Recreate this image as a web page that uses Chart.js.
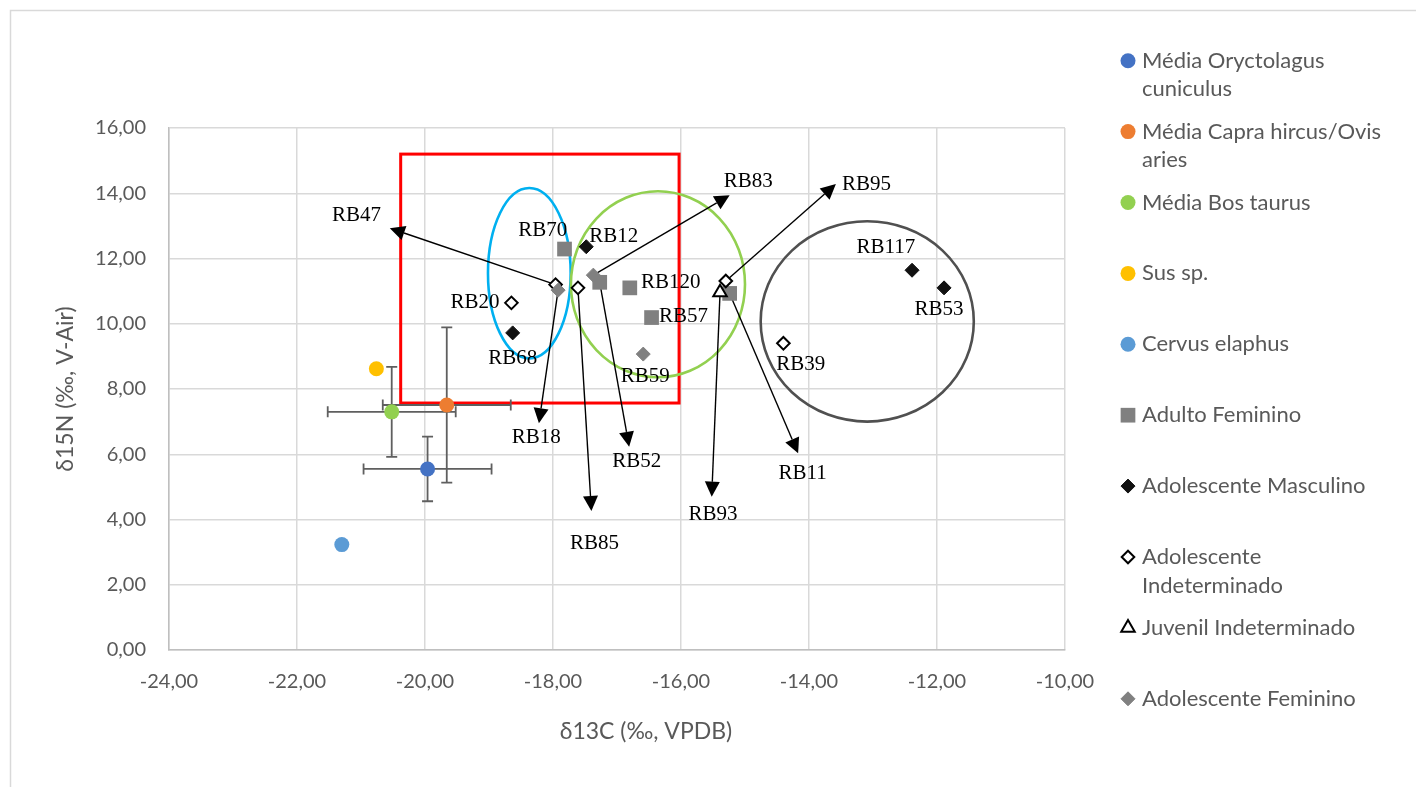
<!DOCTYPE html>
<html>
<head>
<meta charset="utf-8">
<script src="https://cdn.jsdelivr.net/npm/chart.js@4/dist/chart.umd.min.js"></script>
<style>
  html, body { margin: 0; padding: 0; background: #ffffff; }
  #wrap { width: 1416px; height: 787px; position: relative; }
</style>
</head>
<body>
<div id="wrap"><canvas id="c" width="1416" height="787"></canvas></div>
<script>
// ---- Series values: [δ13C, δ15N] ----
const oryctolagus = [[-19.96, 5.55]];
const capraOvis = [[-19.66, 7.51]];
const bosTaurus = [[-20.52, 7.30]];
const susSp = [[-20.76, 8.62]];
const cervus = [[-21.30, 3.23]];
const adultoFeminino = [[-17.82, 12.29], [-17.27, 11.27], [-16.80, 11.10], [-16.46, 10.19], [-15.24, 10.93]];
const adolMasculino = [[-17.48, 12.36], [-18.63, 9.72], [-12.39, 11.64], [-11.89, 11.10]];
const adolIndeterminado = [[-18.65, 10.64], [-17.96, 11.20], [-17.61, 11.10], [-15.30, 11.31], [-14.40, 9.40]];
const juvenilIndeterminado = [[-15.39, 10.96]];
const adolFeminino = [[-17.92, 11.03], [-17.37, 11.49], [-16.59, 9.07]];

// Standard deviations of the three fauna means (Oryctolagus, Capra/Ovis, Bos)
const meanXErr = [1.00, 1.00, 1.00];
const meanYErr = [0.99, 2.38, 1.38];

// Legend texts (lines as wrapped in the legend)
const seriesLabels = [
  ['Média Oryctolagus', 'cuniculus'],
  ['Média Capra hircus/Ovis', 'aries'],
  ['Média Bos taurus'],
  ['Sus sp.'],
  ['Cervus elaphus'],
  ['Adulto Feminino'],
  ['Adolescente Masculino'],
  ['Adolescente', 'Indeterminado'],
  ['Juvenil Indeterminado'],
  ['Adolescente Feminino']
];

// Axis ticks
const xTickValues = [-24, -22, -20, -18, -16, -14, -12, -10];
const yTickValues = [0, 2, 4, 6, 8, 10, 12, 14, 16];
const xTitle = 'δ13C (‰, VPDB)';
const yTitle = 'δ15N (‰, V-Air)';

// Sample names written next to the markers (text, x, y in axis units)
const sampleNames = [
  ['RB70', -18.16, 12.85], ['RB12', -17.05, 12.69], ['RB120', -16.16, 11.28],
  ['RB57', -15.96, 10.21], ['RB20', -19.22, 10.64], ['RB68', -18.63, 8.95],
  ['RB59', -16.56, 8.39], ['RB117', -12.80, 12.33], ['RB53', -11.97, 10.45],
  ['RB39', -14.13, 8.76],
  ['RB47', -21.07, 13.33], ['RB18', -18.26, 6.50], ['RB85', -17.35, 3.27],
  ['RB52', -16.69, 5.77], ['RB83', -14.95, 14.35], ['RB95', -13.10, 14.28],
  ['RB93', -15.50, 4.14], ['RB11', -14.10, 5.41]
];

// Callout arrows from a sample marker to its name
const callouts = [
  { from: adolIndeterminado[1], to: [-20.55, 12.93] },
  { from: adolFeminino[0], to: [-18.22, 6.95] },
  { from: adolIndeterminado[2], to: [-17.40, 4.26] },
  { from: adultoFeminino[1], to: [-16.81, 6.23] },
  { from: adolFeminino[1], to: [-15.24, 13.94] },
  { from: adolIndeterminado[3], to: [-13.58, 14.28] },
  { from: juvenilIndeterminado[0], to: [-15.52, 4.70] },
  { from: adultoFeminino[4], to: [-14.17, 6.03] }
];

// Grouping outlines (axis units)
const groupBox = { x0: -20.38, x1: -16.03, y0: 7.57, y1: 15.20, color: '#FF0000' };
const groupEllipses = [
  { cx: -18.37, cy: 11.55, rx: 0.646, ry: 2.61, color: '#00B0F0' },
  { cx: -16.36, cy: 11.21, rx: 1.36, ry: 2.85, color: '#92D050' },
  { cx: -13.09, cy: 10.07, rx: 1.665, ry: 3.07, color: '#505050' }
];

const toPts = arr => arr.map(p => ({ x: p[0], y: p[1] }));
const TEXT_GREY = '#595959';
const FONT = 'Lato, "Open Sans", sans-serif';

const styles = [
  { pointStyle: 'circle', radius: 7.5, bg: '#4472C4', border: '#4472C4', bw: 0 },
  { pointStyle: 'circle', radius: 7.5, bg: '#ED7D31', border: '#ED7D31', bw: 0 },
  { pointStyle: 'circle', radius: 7.5, bg: '#92D050', border: '#92D050', bw: 0 },
  { pointStyle: 'circle', radius: 7.5, bg: '#FFC000', border: '#FFC000', bw: 0 },
  { pointStyle: 'circle', radius: 7.5, bg: '#5B9BD5', border: '#5B9BD5', bw: 0 },
  { pointStyle: 'rect', radius: 10.4, bg: '#808080', border: '#808080', bw: 0 },
  { pointStyle: 'rectRot', radius: 7, bg: '#111111', border: '#111111', bw: 1 },
  { pointStyle: 'rectRot', radius: 6.3, bg: '#FFFFFF', border: '#000000', bw: 2 },
  { pointStyle: 'triangle', radius: 7.8, bg: '#FFFFFF', border: '#000000', bw: 2 },
  { pointStyle: 'rectRot', radius: 7, bg: '#808080', border: '#808080', bw: 1 }
];
const seriesData = [oryctolagus, capraOvis, bosTaurus, susSp, cervus,
  adultoFeminino, adolMasculino, adolIndeterminado, juvenilIndeterminado, adolFeminino];

const datasets = seriesData.map((d, i) => ({
  label: seriesLabels[i].join(' '),
  data: toPts(d),
  pointStyle: styles[i].pointStyle,
  pointRadius: styles[i].radius,
  pointHoverRadius: styles[i].radius,
  pointBackgroundColor: styles[i].bg,
  pointBorderColor: styles[i].border,
  pointBorderWidth: styles[i].bw,
  showLine: false,
  order: 10 - i
}));

function drawSymbol(ctx, st, x, y) {
  ctx.save();
  ctx.fillStyle = st.bg;
  ctx.strokeStyle = st.border;
  ctx.lineWidth = st.bw;
  ctx.lineJoin = 'miter';
  const r = st.radius;
  ctx.beginPath();
  if (st.pointStyle === 'circle') {
    ctx.arc(x, y, r, 0, Math.PI * 2);
  } else if (st.pointStyle === 'rect') {
    const s = r * Math.SQRT1_2;
    ctx.rect(x - s, y - s, 2 * s, 2 * s);
  } else if (st.pointStyle === 'rectRot') {
    ctx.moveTo(x, y - r); ctx.lineTo(x + r, y); ctx.lineTo(x, y + r); ctx.lineTo(x - r, y);
  } else if (st.pointStyle === 'triangle') {
    const a = 2 * Math.PI / 3;
    ctx.moveTo(x, y - r);
    ctx.lineTo(x + Math.sin(a) * r, y - Math.cos(a) * r);
    ctx.lineTo(x + Math.sin(2 * a) * r, y - Math.cos(2 * a) * r);
  }
  ctx.closePath();
  ctx.fill();
  if (st.bw > 0) ctx.stroke();
  ctx.restore();
}

const decorations = {
  id: 'decorations',
  beforeDatasetsDraw(chart) {
    const { ctx, scales: { x, y } } = chart;
    ctx.save();
    // grouping rectangle
    ctx.strokeStyle = groupBox.color;
    ctx.lineWidth = 3;
    const bx0 = x.getPixelForValue(groupBox.x0), bx1 = x.getPixelForValue(groupBox.x1);
    const by0 = y.getPixelForValue(groupBox.y1), by1 = y.getPixelForValue(groupBox.y0);
    ctx.strokeRect(bx0, by0, bx1 - bx0, by1 - by0);
    // grouping ellipses
    groupEllipses.forEach(e => {
      const cx = x.getPixelForValue(e.cx), cy = y.getPixelForValue(e.cy);
      const rx = Math.abs(x.getPixelForValue(e.cx + e.rx) - cx);
      const ry = Math.abs(y.getPixelForValue(e.cy + e.ry) - cy);
      ctx.beginPath();
      ctx.ellipse(cx, cy, rx, ry, 0, 0, Math.PI * 2);
      ctx.strokeStyle = e.color;
      ctx.lineWidth = 2.6;
      ctx.stroke();
    });
    // error bars of the fauna means
    ctx.strokeStyle = '#5F5F5F';
    ctx.lineWidth = 1.8;
    const cap = 5.5;
    [oryctolagus, capraOvis, bosTaurus].forEach((s, i) => {
      const p = s[0];
      const px = x.getPixelForValue(p[0]), py = y.getPixelForValue(p[1]);
      const xl = x.getPixelForValue(p[0] - meanXErr[i]), xr = x.getPixelForValue(p[0] + meanXErr[i]);
      const yt = y.getPixelForValue(p[1] + meanYErr[i]), yb = y.getPixelForValue(p[1] - meanYErr[i]);
      ctx.beginPath();
      ctx.moveTo(xl, py); ctx.lineTo(xr, py);
      ctx.moveTo(xl, py - cap); ctx.lineTo(xl, py + cap);
      ctx.moveTo(xr, py - cap); ctx.lineTo(xr, py + cap);
      ctx.moveTo(px, yt); ctx.lineTo(px, yb);
      ctx.moveTo(px - cap, yt); ctx.lineTo(px + cap, yt);
      ctx.moveTo(px - cap, yb); ctx.lineTo(px + cap, yb);
      ctx.stroke();
    });
    // callout arrows
    ctx.strokeStyle = '#000000';
    ctx.fillStyle = '#000000';
    ctx.lineWidth = 1.4;
    const headLen = 15, headHalf = 7.5;
    callouts.forEach(c => {
      const x0 = x.getPixelForValue(c.from[0]), y0 = y.getPixelForValue(c.from[1]);
      const x1 = x.getPixelForValue(c.to[0]), y1 = y.getPixelForValue(c.to[1]);
      const ang = Math.atan2(y1 - y0, x1 - x0);
      const bx = x1 - Math.cos(ang) * headLen, by = y1 - Math.sin(ang) * headLen;
      ctx.beginPath();
      ctx.moveTo(x0, y0); ctx.lineTo(bx, by);
      ctx.stroke();
      ctx.beginPath();
      ctx.moveTo(x1, y1);
      ctx.lineTo(bx + Math.sin(ang) * headHalf, by - Math.cos(ang) * headHalf);
      ctx.lineTo(bx - Math.sin(ang) * headHalf, by + Math.cos(ang) * headHalf);
      ctx.closePath();
      ctx.fill();
    });
    ctx.restore();
  },
  afterDatasetsDraw(chart) {
    const { ctx, scales: { x, y } } = chart;
    ctx.save();
    ctx.font = '21px "Liberation Serif", "Times New Roman", serif';
    ctx.fillStyle = '#000000';
    ctx.textAlign = 'center';
    ctx.textBaseline = 'middle';
    sampleNames.forEach(([t, vx, vy]) => {
      ctx.fillText(t, x.getPixelForValue(vx), y.getPixelForValue(vy));
    });
    ctx.restore();
  },
  afterDraw(chart) {
    const { ctx } = chart;
    ctx.save();
    // chart frame
    ctx.strokeStyle = '#D9D9D9';
    ctx.lineWidth = 1.5;
    ctx.beginPath();
    ctx.moveTo(10.5, 800); ctx.lineTo(10.5, 10.5); ctx.lineTo(1420, 10.5);
    ctx.stroke();
    // axis titles
    ctx.fillStyle = TEXT_GREY;
    ctx.font = '23px ' + FONT;
    ctx.textAlign = 'center';
    ctx.textBaseline = 'middle';
    ctx.fillText(xTitle, 646, 732);
    ctx.save();
    ctx.translate(66, 389);
    ctx.rotate(-Math.PI / 2);
    ctx.fillText(yTitle, 0, 0);
    ctx.restore();
    // legend
    ctx.font = '22px ' + FONT;
    ctx.textAlign = 'left';
    seriesLabels.forEach((lines, i) => {
      const ly = 60.7 + i * 70.9;
      drawSymbol(ctx, styles[i], 1128, ly);
      lines.forEach((ln, k) => ctx.fillText(ln, 1142, ly + k * 28.6));
    });
    ctx.restore();
  }
};

const fmt = v => v.toFixed(2).replace('.', ',');

new Chart(document.getElementById('c'), {
  type: 'scatter',
  data: { datasets },
  options: {
    responsive: false,
    animation: false,
    events: [],
    layout: { padding: { left: 0, right: 351, top: 128, bottom: 0 } },
    plugins: { legend: { display: false }, tooltip: { enabled: false } },
    scales: {
      x: {
        type: 'linear', min: -24, max: -10,
        afterBuildTicks(s) { s.ticks = xTickValues.map(v => ({ value: v })); },
        afterFit(s) { s.height = 137; },
        ticks: { color: TEXT_GREY, font: { family: FONT, size: 20 }, padding: 20, callback: fmt, maxRotation: 0 },
        grid: { color: '#D9D9D9', lineWidth: 1.5, drawTicks: false },
        border: { color: '#BFBFBF', width: 1.5 }
      },
      y: {
        type: 'linear', min: 0, max: 16,
        afterBuildTicks(s) { s.ticks = yTickValues.map(v => ({ value: v })); },
        afterFit(s) { s.width = 169; },
        ticks: { color: TEXT_GREY, font: { family: FONT, size: 20 }, padding: 23, callback: fmt },
        grid: { color: '#D9D9D9', lineWidth: 1.5, drawTicks: false },
        border: { color: '#BFBFBF', width: 1.5 }
      }
    }
  },
  plugins: [decorations]
});
</script>
</body>
</html>
